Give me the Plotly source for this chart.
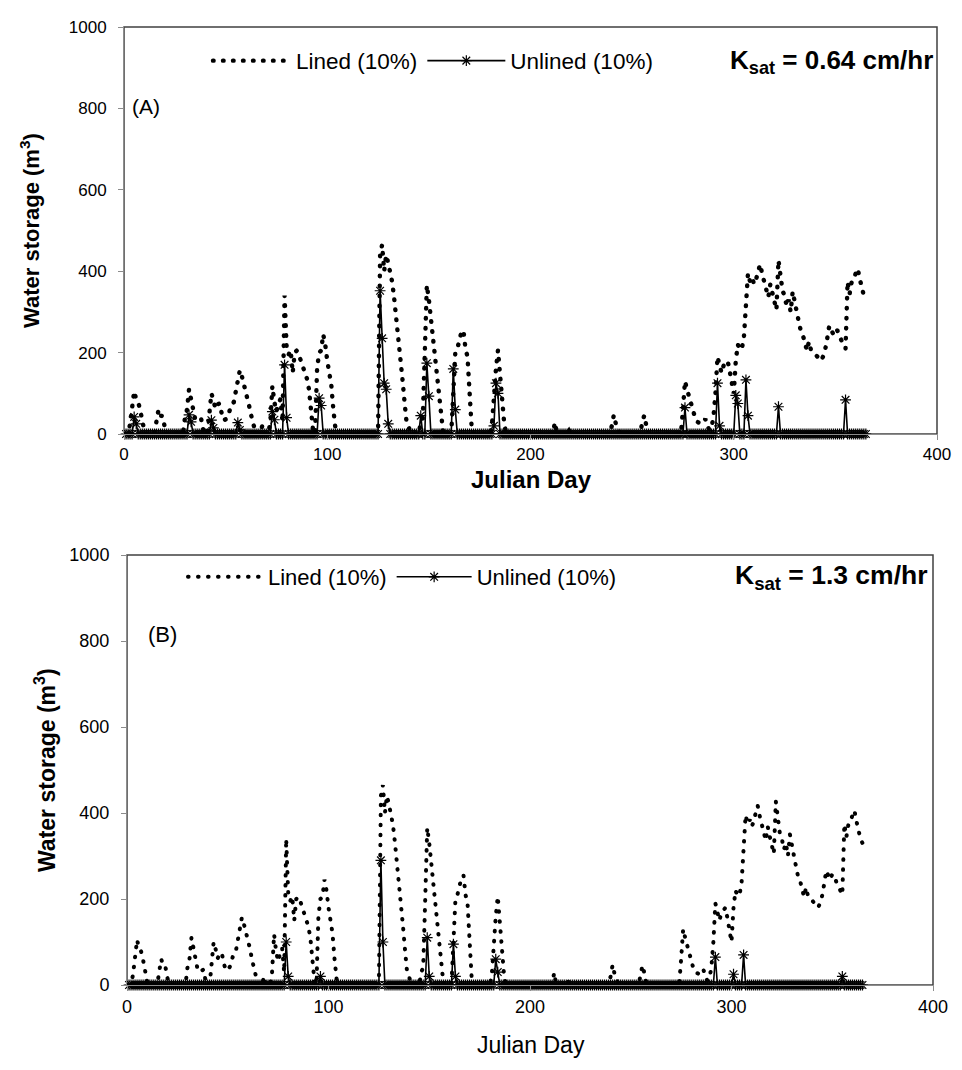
import plotly.graph_objects as go

# ---------------- data ----------------
days = list(range(1, 366))

# Lined (10%) storage, m3 -- nonzero days only (all other days are 0)
lined_nonzero = {
    3: 25, 4: 60, 5: 105, 6: 85, 7: 78, 8: 58, 9: 34, 10: 8,
    16: 32, 17: 60, 18: 45, 19: 44, 20: 18,
    30: 40, 31: 60, 32: 110, 33: 84, 34: 60, 35: 37, 36: 30, 37: 33, 38: 36, 39: 10,
    42: 45, 43: 100, 44: 83, 45: 62, 46: 73, 47: 75, 48: 52, 49: 34, 50: 36, 51: 42,
    52: 58, 53: 74, 54: 78, 55: 102, 56: 130, 57: 157, 58: 142, 59: 122, 60: 111,
    61: 85, 62: 60, 63: 36, 64: 12, 68: 20,
    72: 30, 73: 118, 74: 78, 75: 55, 76: 74, 77: 86, 78: 30, 79: 340, 80: 215,
    81: 195, 82: 206, 83: 150, 84: 200, 85: 205, 86: 195, 87: 180, 88: 165, 89: 155,
    90: 136, 91: 110, 92: 60, 93: 10, 95: 160, 96: 200, 97: 205, 98: 245, 99: 220,
    100: 180, 101: 150, 102: 120, 103: 60, 104: 15, 118: 7,
    126: 440, 127: 465, 128: 400, 129: 440, 130: 420, 131: 395, 132: 372, 133: 330,
    134: 285, 135: 235, 136: 185, 137: 135, 138: 80, 139: 30, 140: 20,
    146: 30, 147: 40, 148: 200, 149: 366, 150: 330, 151: 285, 152: 240, 153: 195,
    154: 140, 155: 90, 156: 45, 157: 5,
    162: 100, 163: 200, 164: 210, 165: 232, 166: 250, 167: 255, 168: 210, 169: 190,
    170: 105, 171: 20,
    181: 20, 182: 100, 183: 160, 184: 206, 185: 150, 186: 80, 187: 30,
    212: 29, 219: 8,
    240: 20, 241: 47, 242: 25, 243: 15, 255: 30, 256: 46, 257: 20,
    275: 60, 276: 130, 277: 110, 278: 90, 279: 75, 280: 60, 281: 40, 282: 30, 283: 27,
    284: 25, 285: 30, 286: 37, 287: 20, 288: 10, 289: 15, 290: 40, 291: 100, 292: 190,
    293: 170, 294: 150, 295: 168, 296: 175, 297: 180, 298: 155, 299: 125, 300: 100,
    301: 180, 302: 220, 303: 207, 304: 210, 305: 238, 306: 340, 307: 395, 308: 375,
    309: 385, 310: 368, 311: 380, 312: 400, 313: 417, 314: 393, 315: 370, 316: 355,
    317: 336, 318: 368, 319: 345, 320: 320, 321: 305, 322: 427, 323: 380, 324: 352,
    325: 340, 326: 315, 327: 330, 328: 300, 329: 350, 330: 330, 331: 300, 332: 276,
    333: 253, 334: 243, 335: 218, 336: 205, 337: 227, 338: 206, 339: 200, 340: 197,
    341: 191, 342: 185, 343: 180, 344: 191, 345: 208, 346: 235, 347: 266, 348: 255,
    349: 245, 350: 258, 351: 254, 352: 240, 353: 230, 354: 222, 355: 210, 356: 374,
    357: 344, 358: 373, 359: 377, 360: 395, 361: 406, 362: 381, 363: 356, 364: 340,
    365: 330,
}

# Unlined (10%) storage, m3 -- nonzero days only
unlined_a_nonzero = {
    5: 42, 6: 25, 32: 47, 33: 30, 43: 34, 44: 15, 56: 28, 57: 10, 73: 55, 74: 35,
    79: 170, 80: 40, 96: 88, 97: 70, 126: 352, 127: 235, 128: 125, 129: 110, 130: 25,
    146: 45, 149: 174, 150: 93, 162: 160, 163: 60, 182: 20, 183: 125, 184: 100,
    276: 65, 292: 125, 293: 20, 301: 95, 302: 75, 306: 133, 307: 45, 322: 67, 355: 84,
}
unlined_b_nonzero = {
    79: 100, 80: 20, 96: 20, 126: 290, 127: 100, 149: 110, 150: 20, 162: 95, 163: 20,
    183: 60, 184: 30, 292: 65, 301: 25, 306: 70, 355: 20,
}

lined = [lined_nonzero.get(d, 0) for d in days]
unlined_a = [unlined_a_nonzero.get(d, 0) for d in days]
unlined_b = [unlined_b_nonzero.get(d, 0) for d in days]

x_ticks = [0, 100, 200, 300, 400]
y_ticks = [0, 200, 400, 600, 800, 1000]

# ---------------- figure ----------------
W, H = 962, 1070
FONT = "Liberation Sans, Arial, sans-serif"


def px_x(p):
    return p / W


def px_y(p):
    return 1 - p / H


fig = go.Figure()


def unlined_trace(y, xa, ya, lg):
    return go.Scatter(x=days, y=y, mode="lines+markers", name="Unlined (10%)",
                      line=dict(color="black", width=1.6),
                      marker=dict(symbol="asterisk-open", size=9,
                                  line=dict(color="black", width=1.2)),
                      cliponaxis=False, xaxis=xa, yaxis=ya, legend=lg)


fig.add_trace(go.Scatter(x=days, y=lined, mode="lines", name="Lined (10%)",
                         line=dict(color="black", width=4.4, dash="0.6px,9.4px"),
                         xaxis="x", yaxis="y", legend="legend"))
fig.add_trace(unlined_trace(unlined_a, "x", "y", "legend"))
fig.add_trace(go.Scatter(x=days, y=lined, mode="lines", name="Lined (10%)",
                         line=dict(color="black", width=4.0, dash="0.6px,9.4px"),
                         xaxis="x2", yaxis="y2", legend="legend2"))
fig.add_trace(unlined_trace(unlined_b, "x2", "y2", "legend2"))

axis_common = dict(showgrid=False, zeroline=False, showline=True, linecolor="#8c8c8c",
                   linewidth=1, ticks="outside", ticklen=5, tickcolor="#8c8c8c",
                   automargin=False)

A_x = [px_x(124), px_x(937)]
A_y = [px_y(434), px_y(27)]
B_x = [px_x(127), px_x(933)]
B_y = [px_y(985), px_y(555)]

fig.update_layout(
    template="none",
    width=W, height=H,
    margin=dict(l=0, r=0, t=0, b=0),
    paper_bgcolor="white", plot_bgcolor="white",
    font=dict(family=FONT, color="black", size=17),
    xaxis=dict(domain=A_x, range=[0, 400], tickvals=x_ticks, anchor="y",
               tickfont=dict(size=17), **axis_common),
    yaxis=dict(domain=A_y, range=[0, 1000], tickvals=y_ticks, anchor="x",
               tickfont=dict(size=17), ticklabelstandoff=8, **axis_common),
    xaxis2=dict(domain=B_x, range=[0, 400], tickvals=x_ticks, anchor="y2",
                tickfont=dict(size=18), **axis_common),
    yaxis2=dict(domain=B_y, range=[0, 1000], tickvals=y_ticks, anchor="x2",
                tickfont=dict(size=18), ticklabelstandoff=8, **axis_common),
    legend=dict(orientation="h", x=px_x(208), y=px_y(61), xanchor="left", yanchor="middle",
                font=dict(size=22.5), bgcolor="rgba(0,0,0,0)", itemwidth=78,
                traceorder="normal"),
    legend2=dict(orientation="h", x=px_x(183), y=px_y(577), xanchor="left", yanchor="middle",
                 font=dict(size=22), bgcolor="rgba(0,0,0,0)", itemwidth=75,
                 traceorder="normal"),
    showlegend=True,
)

# plot-area frames (dark top/right edges)
for xr, yr in (("x domain", "y domain"), ("x2 domain", "y2 domain")):
    fig.add_shape(type="rect", xref=xr, yref=yr, x0=0, x1=1, y0=0, y1=1,
                  line=dict(color="#404040", width=1.5), layer="below")

ann = [
    dict(text="<b>K<sub>sat</sub> = 0.64 cm/hr</b>", x=px_x(935), y=px_y(61),
         xanchor="right", yanchor="middle", font=dict(size=26)),
    dict(text="(A)", x=px_x(130), y=px_y(107), xanchor="left", yanchor="middle",
         font=dict(size=21)),
    dict(text="<b>Julian Day</b>", x=px_x(531), y=px_y(479), xanchor="center",
         yanchor="middle", font=dict(size=24)),
    dict(text="<b>Water storage (m<sup>3</sup>)</b>", x=px_x(30), y=px_y(231),
         xanchor="center", yanchor="middle", textangle=-90, font=dict(size=22)),
    dict(text="<b>K<sub>sat</sub> = 1.3 cm/hr</b>", x=px_x(930), y=px_y(577),
         xanchor="right", yanchor="middle", font=dict(size=26.5)),
    dict(text="(B)", x=px_x(146), y=px_y(634), xanchor="left", yanchor="middle",
         font=dict(size=22)),
    dict(text="Julian Day", x=px_x(531), y=px_y(1045), xanchor="center",
         yanchor="middle", font=dict(size=23)),
    dict(text="<b>Water storage (m<sup>3</sup>)</b>", x=px_x(45), y=px_y(770),
         xanchor="center", yanchor="middle", textangle=-90, font=dict(size=23)),
]
for a in ann:
    fig.add_annotation(xref="paper", yref="paper", showarrow=False, **a)

post = """
document.body.style.margin = '0';
document.querySelectorAll('path.js-line').forEach(function (p) {
  var d = p.style.strokeDasharray;
  if (d && d !== 'none') { p.style.strokeLinecap = 'round'; }
});
"""

fig.write_html("out.html", post_script=post, config={"displayModeBar": False})
